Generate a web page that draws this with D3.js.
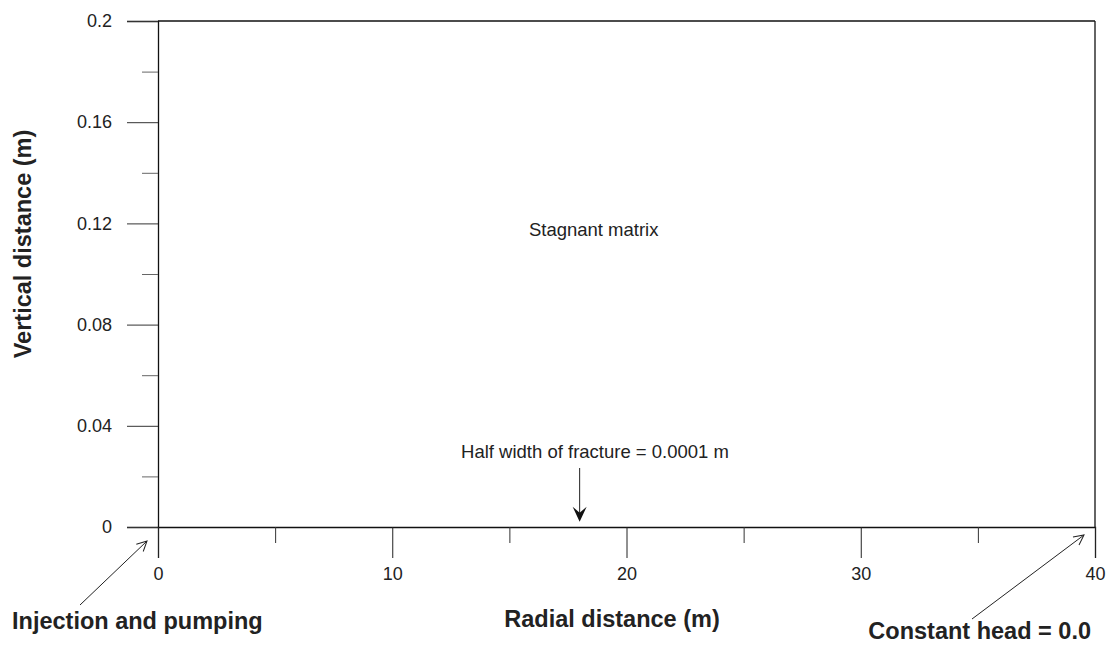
<!DOCTYPE html>
<html>
<head>
<meta charset="utf-8">
<script src="https://cdn.jsdelivr.net/npm/d3@7/dist/d3.min.js"></script>
<style>
  body { margin: 0; background: #fff; }
  svg { display: block; font-family: "Liberation Sans", Arial, sans-serif; }
</style>
</head>
<body>
<svg id="chart" width="1106" height="646"></svg>
<script>
// Domain of the model section
const xDomain = [0, 40];
const yDomain = [0, 0.2];
const xMajorTicks = [0, 10, 20, 30, 40];
const xMinorTicks = [5, 15, 25, 35];
const yMajorTicks = [0, 0.04, 0.08, 0.12, 0.16, 0.2];
const yMinorTicks = [0.02, 0.06, 0.1, 0.14, 0.18];
const yTickLabels = ["0", "0.04", "0.08", "0.12", "0.16", "0.2"];

// Annotations
const matrixLabel = { text: "Stagnant matrix", x: 18.6, y: 0.115 };
const fractureLabel = { text: "Half width of fracture = 0.0001 m", x: 18, y: 0.0001 };
const boundaryLabels = [
  { text: "Injection and pumping", x: 0 },
  { text: "Constant head = 0.0", x: 40 }
];

const svg = d3.select("#chart");
const m = { left: 158, right: 1095, top: 21, bottom: 527 };

const x = d3.scaleLinear().domain(xDomain).range([m.left, m.right]);
const y = d3.scaleLinear().domain(yDomain).range([m.bottom, m.top]);

svg.append("defs").html(`
  <marker id="openHead" viewBox="0 0 12 12" refX="11" refY="6" markerWidth="12" markerHeight="12" markerUnits="userSpaceOnUse" orient="auto">
    <path d="M1,1 L11,6 L1,11" fill="none" stroke="#222" stroke-width="1"/>
  </marker>
`);

// Frame (top and right edges)
svg.append("line").attr("x1", m.left).attr("x2", m.right).attr("y1", m.top).attr("y2", m.top)
  .attr("stroke", "#111").attr("stroke-width", 1.3);
svg.append("line").attr("x1", m.right).attr("x2", m.right).attr("y1", m.top).attr("y2", m.bottom)
  .attr("stroke", "#111").attr("stroke-width", 1.3);

// Y axis
const yAxis = d3.axisLeft(y).tickValues(yMajorTicks).tickSize(31).tickPadding(15)
  .tickFormat((d, i) => yTickLabels[i]);
const gy = svg.append("g").attr("transform", `translate(${m.left},0)`).call(yAxis);
gy.select(".domain").attr("stroke", "#111").attr("stroke-width", 1.3);
gy.selectAll(".tick line").attr("stroke", "#333").attr("stroke-width", 1);
gy.selectAll(".tick text").attr("font-size", 18).attr("fill", "#222")
  .attr("font-family", "Liberation Sans, Arial, sans-serif");
const gyMinor = svg.append("g").attr("transform", `translate(${m.left},0)`)
  .call(d3.axisLeft(y).tickValues(yMinorTicks).tickSize(16).tickFormat(""));
gyMinor.select(".domain").remove();
gyMinor.selectAll(".tick line").attr("stroke", "#666").attr("stroke-width", 1);

// X axis
const xAxis = d3.axisBottom(x).tickValues(xMajorTicks).tickSize(31).tickPadding(9).tickFormat(d3.format("d"));
const gx = svg.append("g").attr("transform", `translate(0,${m.bottom})`).call(xAxis);
gx.select(".domain").attr("stroke", "#111").attr("stroke-width", 1.3);
gx.selectAll(".tick line").attr("stroke", "#222").attr("stroke-width", 1);
gx.selectAll(".tick text").attr("font-size", 18).attr("fill", "#222")
  .attr("font-family", "Liberation Sans, Arial, sans-serif");
const gxMinor = svg.append("g").attr("transform", `translate(0,${m.bottom})`)
  .call(d3.axisBottom(x).tickValues(xMinorTicks).tickSize(16).tickFormat(""));
gxMinor.select(".domain").remove();
gxMinor.selectAll(".tick line").attr("stroke", "#333").attr("stroke-width", 1);

// Axis titles
svg.append("text").attr("x", 612).attr("y", 627).attr("text-anchor", "middle")
  .attr("font-size", 23.5).attr("font-weight", "bold").attr("fill", "#222")
  .text("Radial distance (m)");
svg.append("text").attr("transform", "translate(31,244) rotate(-90)").attr("text-anchor", "middle")
  .attr("font-size", 23.5).attr("font-weight", "bold").attr("fill", "#222")
  .text("Vertical distance (m)");

// Stagnant matrix label
svg.append("text").attr("x", x(matrixLabel.x)).attr("y", y(matrixLabel.y))
  .attr("text-anchor", "middle").attr("font-size", 18.5).attr("fill", "#222")
  .text(matrixLabel.text);

// Fracture annotation with downward arrow
const fx = x(fractureLabel.x);
svg.append("text").attr("x", 595).attr("y", 458).attr("text-anchor", "middle")
  .attr("font-size", 18.5).attr("fill", "#222").text(fractureLabel.text);
const tipY = y(fractureLabel.y) - 5;
svg.append("line").attr("x1", fx).attr("x2", fx).attr("y1", 468).attr("y2", tipY - 4)
  .attr("stroke", "#222").attr("stroke-width", 1);
svg.append("path")
  .attr("d", `M${fx},${tipY} L${fx - 7},${tipY - 15} L${fx},${tipY - 9} L${fx + 7},${tipY - 15} Z`)
  .attr("fill", "#111");

// Boundary condition labels with pointer arrows
const leftB = boundaryLabels[0], rightB = boundaryLabels[1];
svg.append("line").attr("x1", 80).attr("y1", 605).attr("x2", x(leftB.x) - 11).attr("y2", 541)
  .attr("stroke", "#222").attr("stroke-width", 1).attr("marker-end", "url(#openHead)");
svg.append("text").attr("x", 12).attr("y", 629).attr("font-size", 23.5).attr("font-weight", "bold")
  .attr("fill", "#222").text(leftB.text);

svg.append("line").attr("x1", 972).attr("y1", 619).attr("x2", x(rightB.x) - 11).attr("y2", 535)
  .attr("stroke", "#222").attr("stroke-width", 1).attr("marker-end", "url(#openHead)");
svg.append("text").attr("x", 1091).attr("y", 639).attr("text-anchor", "end").attr("font-size", 23.5)
  .attr("font-weight", "bold").attr("fill", "#222").text(rightB.text);
</script>
</body>
</html>
